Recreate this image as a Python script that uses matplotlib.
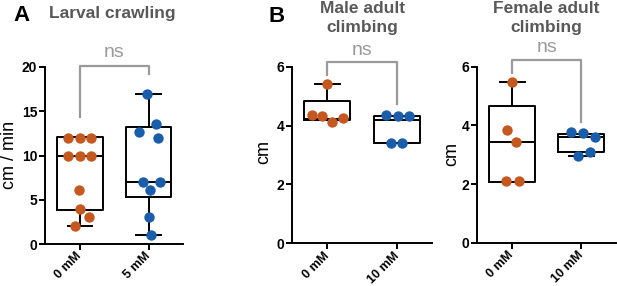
import matplotlib.pyplot as plt
import numpy as np

plt.rcParams['font.family'] = ['Liberation Sans', 'DejaVu Sans']

# ---- data ----
groups_a = ["0 mM", "5 mM"]
groups_b = ["0 mM", "10 mM"]

larval_0 = [12, 12, 12, 10, 10, 10, 6.1, 3.9, 3.0, 2.0]
larval_5 = [17, 13.6, 12.7, 12.0, 7.0, 7.0, 6.1, 3.0, 1.0]
male_0 = [5.4, 4.36, 4.32, 4.11, 4.27]
male_10 = [4.36, 4.34, 4.32, 3.40, 3.40]
female_0 = [5.47, 3.85, 3.44, 2.09, 2.10]
female_10 = [3.79, 3.73, 3.62, 3.08, 2.97]

# box stats: (whislo, q1, median, q3, whishi)
larval_box = [(2.0, 3.8, 10.0, 12.05, 12.05), (1.0, 5.27, 7.0, 13.26, 17.0)]
male_box = [(4.18, 4.18, 4.23, 4.85, 5.4), (3.41, 3.41, 4.19, 4.32, 4.32)]
female_box = [(2.07, 2.07, 3.44, 4.67, 5.47), (2.97, 3.10, 3.60, 3.71, 3.71)]

# horizontal scatter of the dots (layout, in category units)
jit_larval_0 = [-0.17, 0, 0.16, -0.17, 0, 0.16, -0.01, 0, 0.13, -0.07]
jit_larval_5 = [-0.025, 0.106, -0.145, 0.135, -0.087, 0.17, 0.025, 0, 0.04]
jit_male_0 = [0, -0.216, -0.08, 0.063, 0.23]
jit_male_10 = [-0.154, 0.014, 0.177, -0.086, 0.072]
jit_female_0 = [0, -0.068, 0.062, -0.083, 0.097]
jit_female_10 = [-0.145, 0.029, 0.193, 0.12, -0.048]

ORANGE = "#c4581f"
BLUE = "#1a5dab"
GREY_TITLE = "#595959"
GREY_NS = "#9a9a9a"

W, H = 617, 286
fig = plt.figure(figsize=(W / 100, H / 100), dpi=100)


def add_ax(l, r, top, bot):
    return fig.add_axes([l / W, 1 - bot / H, (r - l) / W, (bot - top) / H])


def draw_panel(ax, d0, d1, j0, j1, boxes, labels, ymax, yticks, bracket, ns_y):
    stats = []
    for (lo, q1, med, q3, hi), lab in zip(boxes, labels):
        stats.append(dict(whislo=lo, q1=q1, med=med, q3=q3, whishi=hi, label=lab))
    lw = 1.4
    ax.bxp(stats, positions=[0, 1], widths=0.66, capwidths=0.36, showfliers=False,
           boxprops=dict(color="black", lw=lw), medianprops=dict(color="black", lw=lw),
           whiskerprops=dict(color="black", lw=lw), capprops=dict(color="black", lw=lw),
           zorder=2)
    ax.scatter(np.array(j0), d0, s=56, color=ORANGE, zorder=3, lw=0, clip_on=False)
    ax.scatter(1 + np.array(j1), d1, s=56, color=BLUE, zorder=3, lw=0, clip_on=False)

    ax.set_xlim(-0.51, 1.5)
    ax.set_ylim(0, ymax)
    ax.set_yticks(yticks)
    ax.set_xticks([0, 1])
    ax.set_xticklabels(labels, rotation=45, ha="right", va="center",
                       rotation_mode="anchor", fontweight="bold", fontsize=9)
    for t in ax.get_yticklabels():
        t.set_fontweight("bold")
        t.set_fontsize(10)
    ax.spines[["top", "right"]].set_visible(False)
    ax.spines[["left", "bottom"]].set_linewidth(lw)
    ax.tick_params(axis="y", width=lw, length=4, pad=1.5)
    ax.tick_params(axis="x", width=lw, length=4, pad=3.5)

    top, left_bot, right_bot = bracket
    ax.plot([0, 0, 1, 1], [left_bot, top, top, right_bot], color=GREY_NS, lw=1.6,
            clip_on=False, zorder=4)
    ax.text(0.5, ns_y, "ns", color=GREY_NS, fontsize=14, ha="center", va="baseline")


ax_a = add_ax(45, 183, 67, 244)
draw_panel(ax_a, larval_0, larval_5, jit_larval_0, jit_larval_5, larval_box, groups_a,
           20, [0, 5, 10, 15, 20], (20.15, 14.35, 19.2), 21.16)

ax_m = add_ax(291.7, 432, 66.7, 243.3)
draw_panel(ax_m, male_0, male_10, jit_male_0, jit_male_10, male_box, groups_b,
           6, [0, 2, 4, 6], (6.16, 5.71, 4.72), 6.39)

ax_f = add_ax(476.7, 616, 66.7, 242.7)
draw_panel(ax_f, female_0, female_10, jit_female_0, jit_female_10, female_box, groups_b,
           6, [0, 2, 4, 6], (6.24, 5.8, 4.13), 6.5)


def ftext(x, y, s, **kw):
    fig.text(x / W, 1 - y / H, s, **kw)


# panel letters and titles
ftext(13, 20.7, "A", fontsize=16, fontweight="bold", va="baseline")
ftext(49, 18.3, "Larval crawling", fontsize=12.5, fontweight="bold", color=GREY_TITLE,
      va="baseline")
ftext(268, 21.7, "B", fontsize=16, fontweight="bold", va="baseline")
ftext(362.5, 12.7, "Male adult", fontsize=12.5, fontweight="bold", color=GREY_TITLE,
      ha="center", va="baseline")
ftext(362.5, 32, "climbing", fontsize=12.5, fontweight="bold", color=GREY_TITLE,
      ha="center", va="baseline")
ftext(546.5, 12.7, "Female adult", fontsize=12.5, fontweight="bold", color=GREY_TITLE,
      ha="center", va="baseline")
ftext(546.5, 32, "climbing", fontsize=12.5, fontweight="bold", color=GREY_TITLE,
      ha="center", va="baseline")

# y labels
ftext(10, 155, "cm / min", fontsize=13, rotation=90, ha="center", va="center")
ftext(264, 152, "cm", fontsize=13, rotation=90, ha="center", va="center")
ftext(452, 154, "cm", fontsize=13, rotation=90, ha="center", va="center")

fig.savefig("out.png", dpi=100)
